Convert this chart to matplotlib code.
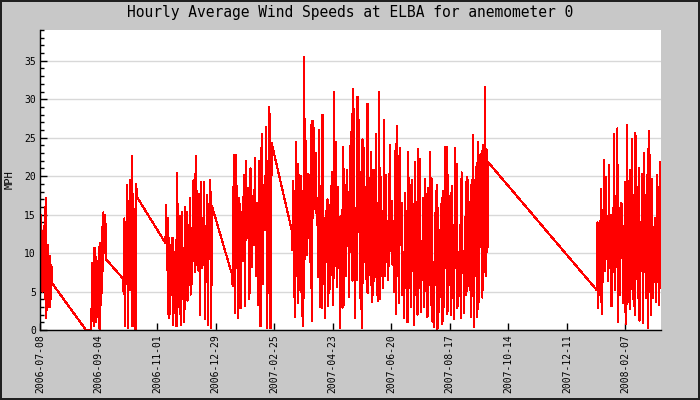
import matplotlib
matplotlib.use('Agg')
import matplotlib.pyplot as plt
import matplotlib.dates as mdates
from matplotlib.ticker import FixedLocator, MultipleLocator
import pandas as pd

plt.rcParams['font.family'] = 'DejaVu Sans Mono'

TITLE = 'Hourly Average Wind Speeds at ELBA for anemometer 0'
Y_LABEL = 'MPH'

# x axis: ticks every 5,000,000 seconds from the first one
tick_start = '2006-07-08 14:00'
tick_step_s = 5e6
tick_count = 11

# readings come in runs separated by outages; each run is (first, last) + values
run1_span = ('2006-07-08 19:00', '2006-07-20 10:00')
run1_mph = [9, 15, 7, 11.3, 5, 10, 13, 6, 16, 4, 17.2, 1.5, 9, 3, 11, 5, 8, 3,
            9.6, 4, 8.4, 6.1]

gap_times = ['2006-08-23 00:00', '2006-08-28 09:00']
gap_mph = [0, 0]

run2_span = ('2006-08-28 22:00', '2006-09-11 19:00')
run2_mph = [8.7, 2, 8.3, 0.5, 10.7, 3, 9.5, 1, 7.7, 5, 9, 0.3, 11.3, 0, 8.9,
            4.7, 13.4, 7.7, 15.3, 10, 11.9, 15, 9.2]

run3_span = ('2006-09-28 14:00', '2006-10-12 10:00')
run3_mph = [6.7, 4.7, 14.5, 0.5, 14, 8.5, 18.9, 0.3, 16, 5.2, 19.5, 7, 22.6,
            0.5, 17.7, 10.5, 14.5, 0, 19, 17.3]

run4_span = ('2006-11-09 14:00', '2006-12-25 14:00')
run4_mph = [11.3, 16.3, 7.8, 14.6, 1.5, 12, 2.1, 10.7, 4.5, 12, 0.6, 10, 2.5,
            11.7, 0.5, 20.4, 3.5, 10.7, 2.1, 14.8, 0.7, 15.4, 4, 10.6, 1, 16,
            7.5, 15.4, 3.8, 13.7, 5.8, 17.2, 4.6, 13.2, 6, 19.4, 9, 20.3, 7.5,
            22.6, 9, 14.3, 7.7, 17.7, 2, 19.3, 8.1, 14.6, 10, 19.2, 1.4, 13.5,
            6.3, 17.6, 0.6, 16.4, 10.1, 19.5, 0.3, 16.1]

run5_span = ('2007-01-14 00:00', '2007-02-22 14:00')
run5_mph = [7.4, 5.7, 22.8, 2.2, 22.8, 11.5, 1.5, 17.2, 2.8, 15.4, 9, 20.1,
            3.1, 22, 12, 18.4, 4, 21, 8.2, 17.4, 11, 22.3, 7, 16.5, 3.3, 22,
            0.5, 25.5, 6, 18.8, 13, 26.4, 0.3, 20, 29, 0.2, 24.3]

run6_span = ('2007-03-14 10:00', '2007-09-24 17:00')
run6_mph = [13, 10.4, 19.4, 6, 1.7, 24.5, 7, 21.6, 3.5, 20.2,
            10, 20, 1.8, 18.1, 0.5, 35.5, 9.2, 24.6, 9.7, 20.3,
            12, 18.8, 8.9, 26.7, 1.2, 27.2, 14.6, 26.3, 15.7, 23,
            13.6, 17.2, 6.9, 26, 3, 14.6, 2.8, 28, 6, 14.5,
            1.5, 15.5, 9.7, 17, 3.1, 16.3, 5.3, 18.7, 7.1, 20.6,
            3.2, 31.0, 9.3, 24.5, 5.6, 18.6, 8, 14.7, 0.3, 10.8,
            15.6, 2.9, 23.8, 3.2, 18.6, 7, 20.8, 10.9, 17.9, 4.3,
            23.9, 10.2, 28.1, 6.4, 31.3, 13.8, 1.5, 15.9, 6.5, 30.3,
            12.7, 27.3, 4.1, 20.6, 0.2, 24.8, 6.1, 23.6, 9.5, 18.6,
            4.9, 29.4, 4.8, 19.7, 9, 23.2, 3.6, 20.8, 4.6, 15.4,
            10.3, 25.5, 4.5, 16.5, 3.8, 31, 4, 19.9, 7, 15.5,
            5.4, 27.3, 7, 20.2, 8.8, 14.2, 6.5, 16.6, 24, 10.3,
            16.8, 8.5,
            11.6, 5, 23.3, 2.1, 26.5, 7, 22.6, 3.5, 23.7, 11,
            16.5, 4.5, 10.1, 1.6, 17.8, 5.5, 15.5, 1, 23.1, 5.4,
            18.8, 3, 19.5, 7.7, 16.4, 0.6, 21.8, 4.6, 16.7, 2,
            23.5, 5.5, 22.2, 2.3, 11.6, 6.5, 17.2, 3, 19.6, 5.1,
            17.7, 1.7, 18.4, 5.8, 23.1, 3.2, 19.7, 1.1, 8.8, 0.4,
            15.2, 5.9, 18.9, 0.1, 15.8, 2.4, 13, 4.3, 17.2, 0.8,
            18.1, 3, 23.8, 8, 23.8, 2.1, 20.2, 8.1, 17.4, 2,
            18.7, 4.1, 11, 1.4, 23.6, 8.1, 21.6, 2.8, 10.1, 5.6,
            13.6, 1.5, 20.5, 7.9, 10.3, 2.2, 14.7, 4.6, 19.9, 5.1,
            19.5, 7.6, 16.6, 1.7, 19.5, 4.4, 25.3, 0.4, 19.5, 7,
            21.7, 1.7, 24.5, 3.6, 22.7, 10.8, 23.3, 4.2, 24, 7.5,
            31.6, 7, 23.5, 10.1, 21.8]

run7_span = ('2008-01-09 22:00', '2008-03-13 12:00')
run7_mph = [5.2, 14, 2.9, 13.9, 4.8, 18.3, 2.1, 15.6, 6.3, 22.1, 7.7, 19.9,
            9.2, 14.8, 6.4, 21.5, 8, 15, 3.1, 12.6, 7.6, 25.5, 5.2, 17.4, 8.2,
            26.2, 1, 15.5, 4.6, 16.5, 9.4, 16.4, 3.5, 13.5, 2.4, 19.3, 0.8,
            26.6, 3.7, 16.4, 2.7, 20.8, 5.3, 24.8, 4, 17.5, 1.9, 25.6, 6.6,
            18.6, 4.2, 21, 1.2, 14, 7.7, 20.3, 0.9, 23, 7.6, 17.6, 4.2, 20.1,
            0.2, 25.9, 5, 22.8, 2, 19.6, 4.2, 13.4, 6.3, 14.6, 3.7, 20.1, 6.2,
            18.6, 3.2, 21.8, 6.1]


def _run(span, values):
    '''Readings of one run, evenly spaced in time.'''
    times = pd.date_range(span[0], span[1], periods=len(values))
    return pd.Series(values, index=times)


series = pd.concat([
    _run(run1_span, run1_mph),
    pd.Series(gap_mph, index=pd.to_datetime(gap_times)),
    _run(run2_span, run2_mph),
    _run(run3_span, run3_mph),
    _run(run4_span, run4_mph),
    _run(run5_span, run5_mph),
    _run(run6_span, run6_mph),
    _run(run7_span, run7_mph),
])

fig = plt.figure(figsize=(7, 4), dpi=100, facecolor='#c8c8c8')
fig.patch.set_edgecolor('#202020')
fig.patch.set_linewidth(1.5)
ax = fig.add_axes([40 / 700, 70 / 400, 621 / 700, 300 / 400], facecolor='white')

ax.plot(series.index, series.values, color='#ff0000', lw=0.8, antialiased=False)

t0 = mdates.date2num(pd.Timestamp(tick_start))
ticks = [t0 + i * tick_step_s / 86400 for i in range(tick_count)]
ax.set_xlim(t0, mdates.date2num(series.index[-1]))
ax.xaxis.set_major_locator(FixedLocator(ticks))
ax.xaxis.set_major_formatter(mdates.DateFormatter('%Y-%m-%d'))

ax.set_ylim(0, 39)
ax.yaxis.set_major_locator(MultipleLocator(5))
ax.yaxis.set_minor_locator(MultipleLocator(1))
ax.grid(axis='y', which='major', color='#d8d8d8', lw=1)
ax.set_axisbelow(True)

for side in ('top', 'right'):
    ax.spines[side].set_visible(False)
for side in ('left', 'bottom'):
    ax.spines[side].set_linewidth(1)

ax.tick_params(which='major', direction='in', length=5, width=1,
               labelsize=7, pad=3)
ax.tick_params(axis='y', which='minor', direction='in', length=3, width=1)
ax.tick_params(axis='x', labelrotation=90)

fig.text(0.5, 1 - 13 / 400, TITLE, ha='center', va='center', fontsize=10.5)
fig.text(10 / 700, 1 - 180 / 400, Y_LABEL, ha='center', va='center',
         rotation=90, fontsize=7.5)

fig.savefig('out.png', dpi=100, facecolor=fig.get_facecolor(),
            edgecolor=fig.get_edgecolor())
